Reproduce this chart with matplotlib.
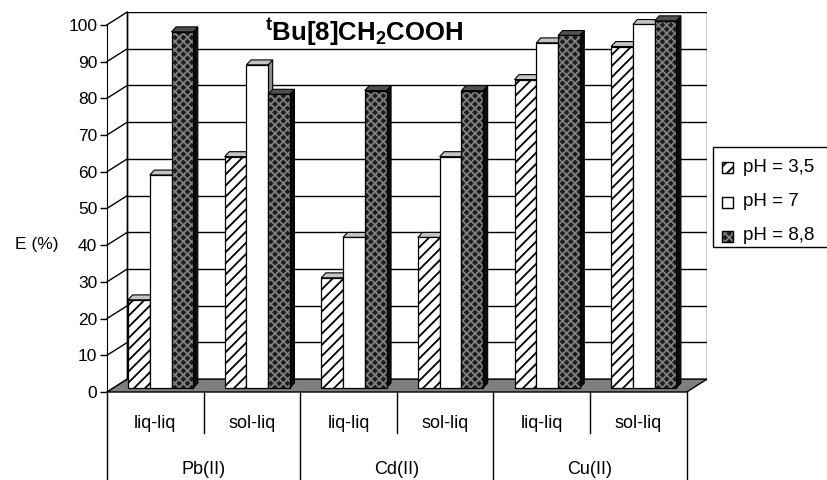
import matplotlib.pyplot as plt
from matplotlib.patches import Polygon, Rectangle

plt.rcParams['font.family'] = 'Liberation Sans'
plt.rcParams['hatch.linewidth'] = 1.3
plt.rcParams['mathtext.fontset'] = 'custom'
plt.rcParams['mathtext.rm'] = 'Liberation Sans'
plt.rcParams['mathtext.bf'] = 'Liberation Sans:bold'

# data
methods = ['liq-liq', 'sol-liq', 'liq-liq', 'sol-liq', 'liq-liq', 'sol-liq']
metals = ['Pb(II)', 'Cd(II)', 'Cu(II)']
ph_labels = ['pH = 3,5', 'pH = 7', 'pH = 8,8']
ph35 = [24, 63, 30, 41, 84, 93]
ph7 = [58, 88, 41, 63, 94, 99]
ph88 = [97, 80, 81, 81, 96, 100]
series = [ph35, ph7, ph88]

# looks of the three series: face, hatch, hatch colour, top face, side face
styles = [
    ('white', '///', 'black', '#c4c4c4', '#8c8c8c'),
    ('white', '', 'white', '#c4c4c4', '#8c8c8c'),
    ('#1c1c1c', 'xxxx', '#808080', '#505050', '#0c0c0c'),
]

W, H = 828, 480
fig = plt.figure(figsize=(W / 100, H / 100), dpi=100)
ax = fig.add_axes([107 / W, 88 / H, 600 / W, 380 / H])

n = len(methods)
DX, DY = 0.21, 3.5      # depth of the 3d box
B0 = 1.1                # bars stand a bit inside the floor
BW = 0.225
X0 = 0.218
ddx, ddy = 0.047, 1.35  # bar depth

ax.set_xlim(0, n + DX)
ax.set_ylim(0, 100 + DY)

# back wall, left wall and floor
ax.add_patch(Rectangle((DX, DY), n, 100, facecolor='white', edgecolor='black', lw=1, zorder=0.5))
for v in range(10, 100, 10):
    ax.plot([DX, n + DX], [v + DY, v + DY], color='black', lw=1, zorder=0.6)
for v in range(0, 101, 10):
    ax.plot([0, DX], [v, v + DY], color='black', lw=1, zorder=0.6, clip_on=False)
ax.plot([DX, DX], [DY, 100 + DY], color='black', lw=1, zorder=0.6)
ax.add_patch(Polygon([(0, 0), (n, 0), (n + DX, DY), (DX, DY)], closed=True,
                     facecolor='#7f7f7f', edgecolor='black', lw=1, zorder=1, clip_on=False))

# bars
for c in range(n):
    for i, vals in enumerate(series):
        face, hatch, hc, topc, sidec = styles[i]
        x = c + X0 + i * BW
        top = B0 + vals[c]
        z = 2 + c * 3 + i
        side = [(x + BW, B0), (x + BW + ddx, B0 + ddy), (x + BW + ddx, top + ddy), (x + BW, top)]
        ax.add_patch(Polygon(side, closed=True, facecolor=sidec, edgecolor='black', lw=0.8, zorder=z))
        tp = [(x, top), (x + BW, top), (x + BW + ddx, top + ddy), (x + ddx, top + ddy)]
        ax.add_patch(Polygon(tp, closed=True, facecolor=topc, edgecolor='black', lw=0.8, zorder=z,
                             clip_on=False))
        ax.bar(x, vals[c], BW, bottom=B0, align='edge', color=face, edgecolor=hc,
               hatch=hatch or None, linewidth=0, zorder=z + 0.1)
        ax.bar(x, vals[c], BW, bottom=B0, align='edge', fill=False, edgecolor='black',
               linewidth=0.9, zorder=z + 0.2)

# front value axis
for s in ['top', 'right', 'bottom']:
    ax.spines[s].set_visible(False)
ax.spines['left'].set_bounds(0, 100)
ax.spines['left'].set_zorder(30)
ax.set_yticks(range(0, 101, 10))
ax.tick_params(axis='y', length=5, width=1, direction='out', labelsize=12.5, pad=2)
ax.set_xticks([])
ax.patch.set_visible(False)

# category table under the floor
ybot = -24
ymid = -11.2
for x in [0, 2, 4, 6]:
    ax.plot([x, x], [0, ybot], color='black', lw=1, clip_on=False)
for x in [1, 3, 5]:
    ax.plot([x, x], [0, ymid], color='black', lw=1, clip_on=False)
for c, m in enumerate(methods):
    ax.text(c + 0.5, -8.6, m, ha='center', va='center', fontsize=13)
for g, m in enumerate(metals):
    ax.text(2 * g + 1, -21, m, ha='center', va='center', fontsize=13)

# overlay in pixel units for title, y label and legend
lay = fig.add_axes([0, 0, 1, 1])
lay.set_xlim(0, W)
lay.set_ylim(H, 0)
lay.axis('off')

lay.text(364, 32, r'$\mathbf{{}^{t}Bu[8]CH_{2}COOH}$', ha='center', va='center', fontsize=18.5)
lay.text(37, 245, 'E (%)', ha='center', va='center', fontsize=12.5)

lay.add_patch(Rectangle((713, 147), 130, 100, facecolor='white', edgecolor='black', lw=1, clip_on=False))
for i, (lab, yc) in enumerate(zip(ph_labels, [167, 202, 236])):
    face, hatch, hc, topc, sidec = styles[i]
    lay.add_patch(Rectangle((722, yc - 5.5), 11, 11, facecolor=face, edgecolor=hc,
                            hatch=hatch or None, lw=0))
    lay.add_patch(Rectangle((722, yc - 5.5), 11, 11, fill=False, edgecolor='black', lw=1))
    lay.text(743, yc, lab, ha='left', va='center', fontsize=13.5)

fig.savefig('out.png', dpi=100)
